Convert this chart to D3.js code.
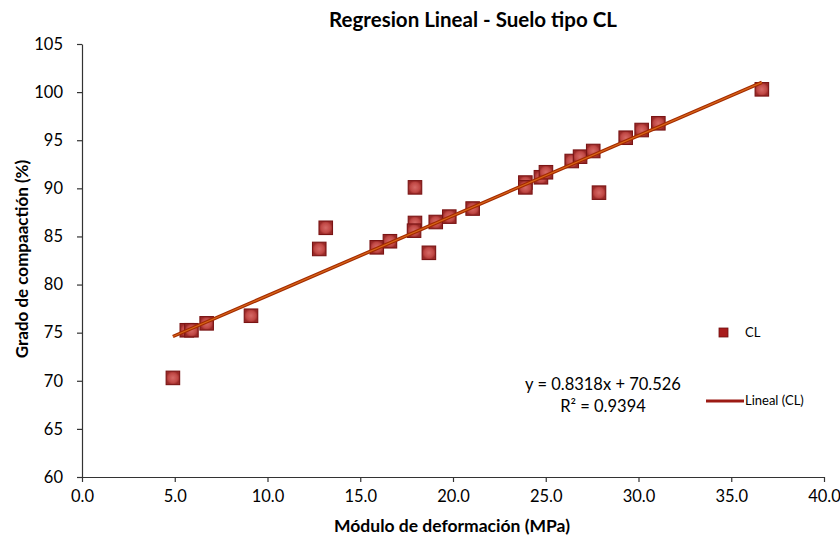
<!DOCTYPE html>
<html><head><meta charset="utf-8">
<script src="https://cdn.jsdelivr.net/npm/d3@7"></script>
<style>
html,body{margin:0;padding:0;background:#fff;}
svg{display:block;}
text{font-family:Lato,"Open Sans","Noto Sans",sans-serif;fill:#000;}
</style></head>
<body>
<svg id="chart" width="840" height="542"></svg>
<script>
const title = "Regresion Lineal - Suelo tipo CL";
const xTitle = "Módulo de deformación (MPa)";
const yTitle = "Grado de compaactión (%)";
const seriesName = "CL";
const trendName = "Lineal (CL)";
const xValues = [4.9, 5.65, 5.9, 6.72, 9.11, 12.79, 13.14, 15.89, 16.6, 17.95, 17.95, 17.9, 18.7, 19.07, 19.8, 21.06, 23.9, 23.9, 24.74, 25.01, 26.4, 26.85, 27.56, 27.87, 29.31, 30.17, 31.07, 36.65];
const yValues = [70.3, 75.25, 75.25, 75.97, 76.76, 83.7, 85.9, 83.87, 84.5, 90.1, 86.4, 85.6, 83.3, 86.5, 87.06, 87.9, 90.6, 90.1, 91.15, 91.67, 92.84, 93.29, 93.88, 89.55, 95.26, 96.06, 96.76, 100.29];
const slope = 0.8318, intercept = 70.526;
const eqLines = ["y = 0.8318x + 70.526", "R² = 0.9394"];
const xTicks = [0, 5, 10, 15, 20, 25, 30, 35, 40];
const yTicks = [60, 65, 70, 75, 80, 85, 90, 95, 100, 105];

const svg = d3.select("#chart");
const x = d3.scaleLinear().domain([0, 40]).range([82, 824]);
const y = d3.scaleLinear().domain([60, 105]).range([477, 44]);

const defs = svg.append("defs");
const grad = defs.append("radialGradient").attr("id","mk");
grad.append("stop").attr("offset","0%").attr("stop-color","#d66a67");
grad.append("stop").attr("offset","70%").attr("stop-color","#c04845");
grad.append("stop").attr("offset","100%").attr("stop-color","#9a2a28");

// axes
const ax = svg.append("g").attr("transform","translate(0,477)")
  .call(d3.axisBottom(x).tickValues(xTicks).tickFormat(d3.format(".1f")).tickSizeOuter(0).tickSizeInner(5));
const ay = svg.append("g").attr("transform","translate(82,0)")
  .call(d3.axisLeft(y).tickValues(yTicks).tickSizeOuter(0).tickSizeInner(5));
[ax, ay].forEach(g=>{
  g.selectAll("path,line").attr("stroke","#333").attr("stroke-width",1.2);
  g.selectAll("text").style("font-family","Lato,'Open Sans',sans-serif").style("font-size","16.5px").attr("fill","#000");
});
ax.selectAll("text").attr("y",13).attr("dy","0.71em");
ay.selectAll("text").attr("x",-19);

// trendline
const xmin = d3.min(xValues), xmax = d3.max(xValues);
const tl = [[xmin, slope*xmin+intercept],[xmax, slope*xmax+intercept]];
const lineGen = d3.line().x(d=>x(d[0])).y(d=>y(d[1]));

// points
const sz = 13.5;
svg.append("g").selectAll("rect").data(xValues.map((v,i)=>[v,yValues[i]])).join("rect")
  .attr("x",d=>x(d[0])-sz/2).attr("y",d=>y(d[1])-sz/2)
  .attr("width",sz).attr("height",sz)
  .attr("fill","url(#mk)").attr("stroke","#7a1414").attr("stroke-width",1.1);

svg.append("path").datum(tl).attr("d",lineGen).attr("stroke","#a32a00").attr("stroke-width",3.5).attr("fill","none");
svg.append("path").datum(tl).attr("d",lineGen).attr("stroke","#e5761e").attr("stroke-width",1.2).attr("fill","none").attr("opacity",0.8);

// titles
svg.append("text").attr("x",473).attr("y",27).attr("text-anchor","middle")
  .style("font-size","20.5px").style("font-weight","bold").text(title);
svg.append("text").attr("x",452).attr("y",532).attr("text-anchor","middle")
  .style("font-size","17.5px").style("font-weight","bold").text(xTitle);
svg.append("text").attr("transform","translate(28,259) rotate(-90)").attr("text-anchor","middle")
  .style("font-size","17px").style("font-weight","bold").text(yTitle);

// equation
eqLines.forEach((t,i)=>{
  svg.append("text").attr("x",603).attr("y",390+i*22).attr("text-anchor","middle")
    .style("font-size","16.5px").text(t);
});

// legend
svg.append("rect").attr("x",719).attr("y",328).attr("width",9).attr("height",9)
  .attr("fill","#a81c1c").attr("stroke","#6e0f0f").attr("stroke-width",0.8);
svg.append("text").attr("x",745).attr("y",337).style("font-size","13px").text(seriesName);
svg.append("line").attr("x1",706).attr("x2",744).attr("y1",401).attr("y2",401)
  .attr("stroke","#9c1a14").attr("stroke-width",3);
svg.append("text").attr("x",745).attr("y",405).style("font-size","13px").text(trendName);
</script>
</body></html>
